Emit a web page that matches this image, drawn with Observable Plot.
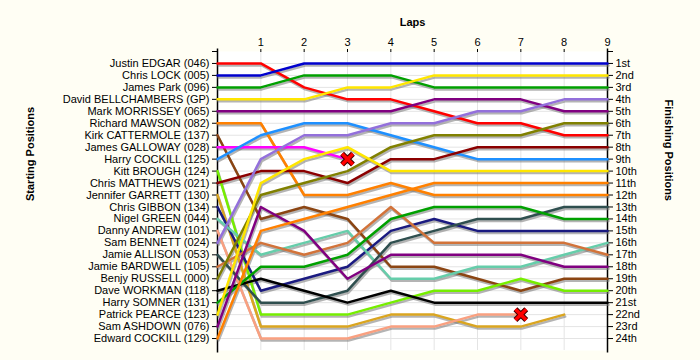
<!DOCTYPE html>
<html><head><meta charset="utf-8">
<script src="https://cdn.jsdelivr.net/npm/d3@7"></script>
<script src="https://cdn.jsdelivr.net/npm/@observablehq/plot@0.6"></script>
<style>
body{margin:0;background:#FFFEF4;}
#c svg{display:block;background:#FFFEF4;font-family:"Liberation Sans",Arial,sans-serif;}
</style></head>
<body><div id="c"></div>
<script>
const laps = [0,1,2,3,4,5,6,7,8,9];
const drivers = ["Justin EDGAR (046)","Chris LOCK (005)","James Park (096)","David BELLCHAMBERS (GP)","Mark MORRISSEY (065)","Richard MAWSON (082)","Kirk CATTERMOLE (137)","James GALLOWAY (028)","Harry COCKILL (125)","Kitt BROUGH (124)","Chris MATTHEWS (021)","Jennifer GARRETT (130)","Chris GIBBON (134)","Nigel GREEN (044)","Danny ANDREW (101)","Sam BENNETT (024)","Jamie ALLISON (053)","Jamie BARDWELL (105)","Benjy RUSSELL (000)","Dave WORKMAN (118)","Harry SOMNER (131)","Patrick PEARCE (123)","Sam ASHDOWN (076)","Edward COCKILL (129)"];
const finishLabels = ["1st","2nd","3rd","4th","5th","6th","7th","8th","9th","10th","11th","12th","13th","14th","15th","16th","17th","18th","19th","20th","21st","22nd","23rd","24th"];
const lineColors = ["#FF0000","#0000CD","#00A000","#FFE600","#800080","#FF8000","#8B4513","#FF00FF","#1E90FF","#76EE00","#8B0000","#DAA520","#1A1A80","#66CDAA","#F9A080","#9370DB","#2F4F4F","#D2733A","#808000","#000000","#00A000","#FFE600","#800080","#FF8000"];
const positions = [
  [1,1,3,4,4,5,6,6,7,7],
  [2,2,1,1,1,1,1,1,1,1],
  [3,3,2,2,2,3,3,3,3,3],
  [4,4,4,3,3,2,2,2,2,2],
  [5,5,5,5,5,4,4,4,5,5],
  [6,6,12,12,11,12,12,12,12,12],
  [7,14,13,14,18,18,19,20,19,19],
  [8,8,8,9],
  [9,7,6,6,7,8,9,9,9,9],
  [10,22,22,22,21,20,20,19,20,20],
  [11,10,10,11,9,9,8,8,8,8],
  [12,23,23,23,22,22,23,23,22],
  [13,20,19,18,15,14,15,15,15,15],
  [14,17,16,15,19,19,18,18,17,16],
  [15,24,24,24,23,23,22,22],
  [16,9,7,7,6,6,5,5,4,4],
  [17,21,21,20,16,15,14,14,13,13],
  [18,16,17,16,13,16,16,16,16,17],
  [19,12,11,10,8,7,7,7,6,6],
  [20,19,20,21,20,21,21,21,21,21],
  [21,18,18,17,14,13,13,13,14,14],
  [22,11,9,8,10,10,10,10,10,10],
  [23,13,15,19,17,17,17,17,18,18],
  [24,15,14,13,12,11,11,11,11,11]
];
const retired = ["James GALLOWAY (028)","Danny ANDREW (101)"];

const rows = [];
drivers.forEach((name,i)=>{
  positions[i].forEach((p,k)=>rows.push({driver:name, lap:laps[k], pos:p, color:lineColors[i]}));
});
const ends = drivers.map((name,i)=>({driver:name, lap:laps[positions[i].length-1], pos:positions[i][positions[i].length-1]}))
  .filter(d=>retired.includes(d.driver));
const posTicks = d3.range(1, drivers.length+1);

const chart = Plot.plot({
  width:700, height:360,
  marginLeft:217, marginRight:93, marginTop:51, marginBottom:10,
  style:{fontFamily:'"Liberation Sans",Arial,sans-serif', fontSize:"11px", color:"#000", background:"#FFFEF4"},
  x:{domain:[0,9], axis:null},
  y:{domain:[0,25], reverse:true, axis:null},
  color:{type:"identity"},
  marks:[
    Plot.frame({fill:"#FFFFFF", stroke:"none"}),
    Plot.ruleY(posTicks, {stroke:"#E4E4E4", strokeWidth:1}),
    Plot.ruleX(laps.slice(1,9), {stroke:"#E4E4E4", strokeWidth:1}),
    Plot.ruleX([0,9], {y1:-0.2, y2:25.2, stroke:"#000", strokeWidth:1.5}),
    Plot.axisX(laps.slice(1), {anchor:"top", tickSize:3, tickPadding:3, fontSize:11, label:null}),
    Plot.axisY([0,...posTicks], {anchor:"left", tickSize:5, tickPadding:3, fontSize:11, label:null, tickFormat:p=>p===0?"":drivers[p-1]}),
    Plot.axisY([0,...posTicks], {anchor:"right", tickSize:5, tickPadding:3, fontSize:11, label:null, tickFormat:p=>p===0?"":finishLabels[p-1]}),
    Plot.line(rows, {x:"lap", y:"pos", z:"driver", stroke:"#777", strokeOpacity:0.55, strokeWidth:2.5, dx:1, dy:2}),
    Plot.line(rows, {x:"lap", y:"pos", z:"driver", stroke:"color", strokeWidth:2.5}),
    Plot.dot(ends, {x:"lap", y:"pos", symbol:"times", r:5, stroke:"#400000", strokeWidth:5.5}),
    Plot.dot(ends, {x:"lap", y:"pos", symbol:"times", r:5, stroke:"#FF0000", strokeWidth:3.5}),
    Plot.text(["Laps"], {frameAnchor:"top", dy:-33, fontWeight:"bold", fontSize:11}),
    Plot.text(["Starting Positions"], {frameAnchor:"left", dx:-187, rotate:-90, fontWeight:"bold", fontSize:11}),
    Plot.text(["Finishing Positions"], {frameAnchor:"right", dx:61, rotate:90, fontWeight:"bold", fontSize:11})
  ]
});
document.getElementById("c").appendChild(chart);
</script></body></html>
